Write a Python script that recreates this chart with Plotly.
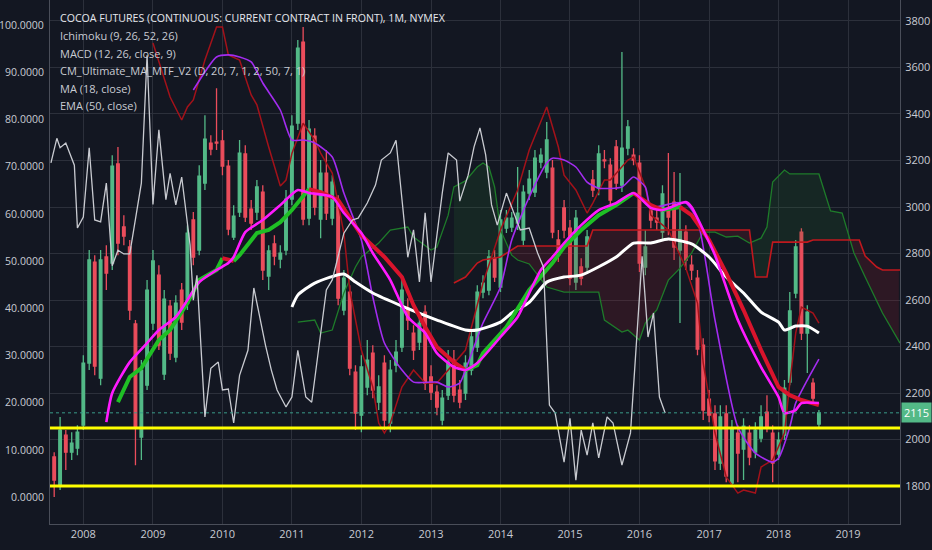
import numpy as np
import pandas as pd
import plotly.graph_objects as go


# monthly candles, Aug 2007 .. Aug 2018
months = pd.date_range('2007-08-01', periods=133, freq='MS')
open_ = [1925, 1804, 2019, 1946, 1963, 2062, 2329, 2763, 2264, 2785, 2759, 3185, 2914, 2828, 2497, 2011, 2234, 2501, 2707, 2282,
         2574, 2355, 2643, 2587, 2944, 2815, 3103, 3275, 3279, 3284, 3176, 2871, 2978, 3228, 2991, 2978, 3064, 2703, 2841, 2776,
         2815, 3034, 3361, 3709, 2952, 3305, 2948, 3146, 2952, 3021, 2557, 2634, 2290, 2105, 2226, 2372, 2161, 2329, 2071, 2320,
         2398, 2565, 2458, 2419, 2548, 2269, 2204, 2084, 2191, 2342, 2213, 2200, 2299, 2398, 2634, 2643, 2780, 2656, 2909, 2914,
         2931, 2858, 3060, 3064, 3193, 3150, 3167, 2858, 2996, 2909, 2677, 2742, 2742, 3116, 3081, 3202, 3180, 3258, 3094, 3253,
         3223, 3189, 2742, 2983, 2952, 2892, 2996, 3021, 2815, 2892, 2750, 2694, 2406, 2174, 2110, 1899, 2110, 1813, 2028, 1959,
         2028, 1946, 2006, 2118, 2028, 1938, 2019, 2247, 2630, 2892, 2458, 2243, 2067]
high = [1946, 2097, 2041, 2032, 2062, 2363, 2815, 2793, 2815, 2836, 3223, 3258, 2965, 2858, 2514, 2342, 2686, 2815, 2750, 2643,
        2600, 2621, 2673, 2922, 2978, 3180, 3395, 3309, 3511, 3331, 3202, 3008, 3288, 3266, 3030, 3116, 3094, 2836, 2879, 2836,
        3073, 3395, 3718, 3774, 3374, 3339, 3202, 3245, 3137, 3051, 2729, 2664, 2320, 2363, 2428, 2406, 2277, 2363, 2342, 2428,
        2686, 2608, 2492, 2535, 2578, 2320, 2234, 2213, 2385, 2385, 2256, 2363, 2471, 2664, 2707, 2815, 2815, 2987, 2987, 2978,
        3172, 3094, 3159, 3245, 3253, 3365, 3202, 2901, 3030, 2944, 2987, 2780, 2901, 3159, 3266, 3245, 3210, 3288, 3666, 3374,
        3253, 3223, 2901, 3008, 2987, 3094, 3232, 3150, 3146, 2922, 2793, 2729, 2436, 2213, 2148, 2148, 2148, 2084, 2062, 2092,
        2062, 2075, 2148, 2191, 2062, 2032, 2256, 2634, 2858, 2909, 2578, 2264, 2127]
low = [1753, 1783, 1869, 1912, 1933, 2041, 2299, 2277, 2234, 2643, 2729, 2793, 2836, 2514, 1890, 1912, 2213, 2471, 2385, 2256,
       2342, 2333, 2471, 2557, 2750, 2793, 3073, 3223, 3245, 3137, 2879, 2858, 2957, 2935, 2901, 2944, 2686, 2643, 2750, 2737,
       2793, 3008, 3331, 2922, 2922, 2965, 2866, 2944, 2922, 2578, 2535, 2277, 2041, 2032, 2191, 2178, 2127, 2041, 2032, 2290,
       2376, 2471, 2342, 2385, 2213, 2170, 2105, 2062, 2170, 2161, 2135, 2170, 2277, 2376, 2608, 2621, 2677, 2634, 2888, 2892,
       2901, 2836, 3030, 3043, 3167, 3124, 2866, 2763, 2866, 2664, 2643, 2664, 2720, 3043, 3051, 3167, 2987, 3073, 3064, 3223,
       3180, 2720, 2707, 2909, 2901, 2858, 2879, 2772, 2501, 2729, 2686, 2363, 2084, 2075, 1869, 1869, 1817, 1796, 1817, 1826,
       1890, 1920, 1989, 2032, 1817, 1912, 1998, 2234, 2608, 2428, 2286, 2157, 2049]
close = [1826, 2041, 1946, 1985, 2032, 2329, 2772, 2316, 2772, 2716, 3176, 2845, 2875, 2557, 2054, 2299, 2643, 2768, 2406, 2604,
         2372, 2587, 2505, 2888, 2785, 3133, 3292, 3249, 3275, 3176, 2905, 2961, 3232, 2957, 2931, 3086, 2729, 2811, 2789, 2802,
         3034, 3348, 3683, 2948, 3335, 3000, 3146, 2974, 3107, 2608, 2694, 2307, 2114, 2312, 2342, 2213, 2226, 2084, 2299, 2376,
         2643, 2514, 2385, 2501, 2243, 2204, 2140, 2178, 2333, 2191, 2161, 2329, 2441, 2634, 2673, 2785, 2699, 2944, 2952, 2952,
         2974, 3064, 3120, 3210, 3223, 3288, 2892, 2793, 2901, 2694, 2952, 2694, 2871, 3073, 3228, 3198, 3030, 3103, 3253, 3344,
         3202, 2759, 2828, 2944, 2935, 3056, 2957, 2828, 2901, 2772, 2729, 2389, 2127, 2105, 1908, 2097, 1843, 2049, 1942, 2058,
         1925, 2041, 2097, 2054, 1899, 1998, 2221, 2553, 2828, 2458, 2548, 2178, 2115]

# EMA (50, close)
ema_dates = ['2011-01', '2011-02', '2011-05', '2011-10', '2011-12', '2012-03', '2012-08', '2013-02', '2013-07', '2013-09',
             '2014-01', '2014-03', '2014-06', '2014-09', '2014-12', '2015-03', '2015-09', '2015-12', '2016-03', '2016-06',
             '2016-10', '2017-01', '2017-04', '2017-07', '2017-10', '2018-01', '2018-02', '2018-04', '2018-06', '2018-08']
ema_vals = [2570, 2621, 2673, 2712, 2677, 2630, 2574, 2514, 2471, 2471,
            2505, 2544, 2590, 2677, 2699, 2707, 2785, 2845, 2845, 2862,
            2841, 2785, 2699, 2630, 2548, 2505, 2471, 2488, 2488, 2458]

# MA (18, close)
ma_dates = ['2008-05', '2008-06', '2008-09', '2008-12', '2009-02', '2009-05', '2009-07', '2009-09', '2009-12', '2010-02',
            '2010-03', '2010-05', '2010-08', '2010-11', '2011-02', '2011-04', '2011-08', '2011-10', '2012-01', '2012-03',
            '2012-06', '2012-09', '2012-12', '2013-02', '2013-05', '2013-07', '2013-09', '2014-01', '2014-04', '2014-06',
            '2014-08', '2014-10', '2014-12', '2015-03', '2015-06', '2015-09', '2015-12', '2016-03', '2016-05', '2016-09',
            '2016-10', '2016-12', '2017-02', '2017-06', '2017-10', '2018-01', '2018-02', '2018-04', '2018-05', '2018-08']
ma_vals = [2075, 2200, 2333, 2415, 2471, 2527, 2600, 2677, 2729, 2759,
           2785, 2892, 2944, 3008, 3073, 3060, 3043, 2974, 2888, 2802,
           2686, 2527, 2458, 2372, 2312, 2299, 2329, 2441, 2527, 2630,
           2729, 2785, 2845, 2922, 2987, 3017, 3060, 2996, 2987, 3021,
           3000, 2901, 2793, 2514, 2312, 2183, 2114, 2127, 2157, 2157]

# CM_Ultimate_MA_MTF_V2
cm_dates = ['2008-07', '2008-08', '2008-09', '2008-11', '2009-01', '2009-02', '2009-04', '2009-07', '2009-09', '2009-12',
            '2010-01', '2010-03', '2010-04', '2010-07', '2010-09', '2010-11', '2011-01', '2011-04', '2011-06', '2011-09',
            '2012-01', '2012-05', '2012-08', '2012-10', '2012-12', '2013-02', '2013-05', '2013-07', '2013-09', '2013-10',
            '2014-02', '2014-06', '2014-10', '2014-12', '2015-03', '2015-06', '2015-09', '2015-12', '2016-03', '2016-05',
            '2016-08', '2016-10', '2017-01', '2017-04', '2017-07', '2017-10', '2018-01', '2018-03', '2018-05', '2018-08']
cm_vals = [2161, 2213, 2269, 2307, 2385, 2428, 2471, 2587, 2686, 2729,
           2780, 2768, 2793, 2888, 2901, 2935, 2987, 3077, 3064, 3030,
           2879, 2785, 2699, 2578, 2484, 2398, 2333, 2299, 2320, 2372,
           2484, 2643, 2759, 2828, 2901, 2965, 3008, 3060, 3008, 2987,
           3000, 2965, 2858, 2716, 2557, 2385, 2226, 2191, 2170, 2148]

# purple line
pur_dates = ['2009-08', '2009-12', '2010-02', '2010-04', '2010-06', '2010-08', '2010-11', '2011-01', '2011-03', '2011-05',
             '2011-08', '2011-10', '2012-01', '2012-03', '2012-05', '2012-08', '2012-10', '2013-02', '2013-04', '2013-06',
             '2013-07', '2013-10', '2014-01', '2014-03', '2014-06', '2014-09', '2014-10', '2014-12', '2015-02', '2015-04',
             '2015-06', '2015-10', '2015-12', '2016-02', '2016-03', '2016-07', '2016-09', '2016-11', '2017-02', '2017-06',
             '2017-09', '2017-12', '2018-01', '2018-03', '2018-04', '2018-06', '2018-08']
pur_vals = [3503, 3645, 3654, 3645, 3624, 3533, 3417, 3288, 3288, 3275,
            3215, 3060, 2858, 2613, 2415, 2299, 2247, 2247, 2226, 2243,
            2299, 2501, 2656, 2858, 3043, 3189, 3210, 3202, 3172, 3107,
            3081, 3086, 3129, 3086, 3000, 3017, 3017, 2944, 2514, 2054,
            1942, 1903, 1920, 2054, 2157, 2256, 2346]

# thin dark red line
dr_dates = ['2009-01', '2009-04', '2009-06', '2009-07', '2009-08', '2009-10', '2009-12', '2010-01', '2010-02', '2010-04',
            '2010-06', '2010-07', '2010-09', '2010-11', '2010-12', '2011-01', '2011-03', '2011-05', '2011-06', '2011-08',
            '2011-10', '2011-11', '2012-01', '2012-03', '2012-04', '2012-05', '2012-06', '2012-08', '2012-10', '2012-12',
            '2013-02', '2013-04', '2013-07', '2013-10', '2014-01', '2014-04', '2014-06', '2014-09', '2014-11', '2014-12',
            '2015-02', '2015-04', '2015-05', '2015-07', '2015-08', '2015-11', '2015-12', '2016-02', '2016-03', '2016-06',
            '2016-09', '2016-11', '2016-12', '2017-02', '2017-04', '2017-06', '2017-07', '2017-09', '2017-10', '2017-12',
            '2018-02', '2018-03', '2018-04', '2018-05', '2018-07', '2018-08']
dr_vals = [3705, 3473, 3374, 3430, 3460, 3632, 3774, 3774, 3654, 3632,
           3482, 3439, 3258, 3090, 3116, 3230, 3360, 3288, 3232, 3146,
           2888, 2643, 2385, 2226, 2071, 2028, 2071, 2226, 2299, 2243,
           2243, 2300, 2385, 2673, 2901, 3073, 3245, 3430, 3258, 3137,
           3073, 2974, 3017, 3116, 3116, 3202, 3215, 3086, 2965, 2901,
           2737, 2587, 2330, 2028, 1839, 1770, 1783, 1770, 1882, 1912,
           2028, 2243, 2458, 2570, 2544, 2501]

# Ichimoku cloud: leading span A / B
sa_dates = ['2011-02', '2011-05', '2011-06', '2011-08', '2011-10', '2011-12', '2012-01', '2012-04', '2012-06', '2012-09',
            '2012-10', '2013-01', '2013-02', '2013-04', '2013-05', '2013-07', '2013-09', '2013-10', '2013-11', '2013-12',
            '2014-01', '2014-03', '2014-04', '2014-06', '2014-09', '2014-12', '2015-06', '2015-07', '2015-10', '2015-11',
            '2016-01', '2016-02', '2016-04', '2016-06', '2016-08', '2016-10', '2016-12', '2017-02', '2017-04', '2017-06',
            '2017-08', '2017-10', '2017-11', '2017-12', '2018-02', '2018-03', '2018-08', '2018-10', '2018-12', '2019-02',
            '2019-04', '2019-07', '2019-10']
sa_vals = [2505, 2514, 2458, 2471, 2630, 2742, 2785, 2845, 2901, 2914,
           2871, 2815, 2828, 2965, 3086, 3112, 3172, 3189, 3172, 3086,
           2901, 2793, 2772, 2755, 2656, 2634, 2634, 2514, 2462, 2471,
           2428, 2501, 2557, 2686, 2737, 2802, 2892, 2892, 2871, 2875,
           2845, 2866, 2914, 3107, 3159, 3142, 3142, 2983, 2974, 2802,
           2699, 2544, 2415]
sb_dates = ['2013-05', '2013-07', '2013-09', '2013-10', '2014-01', '2014-03', '2014-04', '2015-04', '2015-05', '2017-08',
            '2017-09', '2017-11', '2017-12', '2018-06', '2018-07', '2019-03', '2019-04', '2019-06', '2019-07', '2019-10']
sb_vals = [2673, 2699, 2759, 2772, 2785, 2815, 2832, 2832, 2901, 2901,
           2699, 2699, 2849, 2849, 2858, 2858, 2789, 2742, 2729, 2729]

# oscillator on the left scale
osc_dates = ['2007-07-15', '2007-08-15', '2007-09-01', '2007-10-01', '2007-11-15', '2007-12-01', '2008-01-01', '2008-02-01',
             '2008-03-01', '2008-04-01', '2008-05-01', '2008-06-01', '2008-07-01', '2008-08-01', '2008-09-01', '2008-11-01',
             '2008-12-01', '2009-01-01', '2009-02-01', '2009-03-10', '2009-04-01', '2009-05-01', '2009-06-01', '2009-07-15',
             '2009-08-01', '2009-08-20', '2009-10-01', '2009-11-01', '2009-12-10', '2010-01-01', '2010-02-01', '2010-03-01',
             '2010-04-01', '2010-05-15', '2010-06-15', '2010-07-15', '2010-08-15', '2010-09-15', '2010-10-15', '2010-12-01',
             '2011-01-01', '2011-02-01', '2011-03-15', '2011-04-15', '2011-05-15', '2011-07-01', '2011-08-01', '2011-10-01',
             '2011-11-15', '2011-12-15', '2012-02-01', '2012-03-15', '2012-04-15', '2012-06-01', '2012-07-01', '2012-08-01',
             '2012-09-01', '2012-10-01', '2012-11-01', '2012-12-01', '2013-01-01', '2013-03-01', '2013-04-01', '2013-05-15',
             '2013-06-01', '2013-07-15', '2013-08-15', '2013-09-15', '2013-10-15', '2013-11-15', '2013-12-15', '2014-02-01',
             '2014-04-15', '2014-06-01', '2014-07-15', '2014-08-15', '2014-09-15', '2014-10-15', '2014-12-01', '2015-01-01',
             '2015-02-01', '2015-03-01', '2015-04-01', '2015-05-01', '2015-06-01', '2015-07-15', '2015-08-15', '2015-10-01',
             '2015-11-15', '2016-01-15', '2016-02-15', '2016-03-15', '2016-04-15', '2016-05-15']
osc_vals = [70.8, 76, 74, 75, 70.3, 57, 59.3, 74,
            58.7, 58.3, 66.5, 49, 52.3, 51.5, 51.5, 66.5,
            93.6, 62, 77.8, 63, 68.6, 61.9, 67.8, 53.4,
            41.7, 47, 17, 27.3, 28.6, 22.7, 22.9, 15.7,
            25.8, 31.1, 44.3, 38, 32.2, 26.9, 22.7, 19.1,
            21.2, 31.1, 21.2, 20.1, 29.4, 43.9, 46, 55.9,
            58.7, 59.1, 62.3, 66.1, 71.4, 72.9, 75.6, 63.3,
            50.8, 56.6, 45.6, 60.2, 45.6, 64.4, 72.9, 71.4,
            62.7, 68.2, 74.2, 78.2, 72.5, 61.9, 57.6, 64.4,
            56.6, 57, 51.7, 48.7, 19.5, 17.8, 7.4, 16.7,
            3.6, 14.2, 8.9, 15.7, 8.3, 17, 15.7, 6.8,
            13.6, 51, 33.9, 39, 21.2, 17.8]

support_levels = [2050, 1800]
last_price = 2115

legend_lines = ['COCOA FUTURES (CONTINUOUS: CURRENT CONTRACT IN FRONT), 1M, NYMEX',
                'Ichimoku (9, 26, 52, 26)',
                'MACD (12, 26, close, 9)',
                'CM_Ultimate_MA_MTF_V2 (D, 20, 7, 1, 2, 50, 7, 1)',
                'MA (18, close)',
                'EMA (50, close)']

bg = '#131722'
grid = '#2c303b'
up_col = '#53b987'
dn_col = '#eb4d5c'

fig = go.Figure()

# cloud shading, on a weekly grid between the two spans
wk = pd.date_range('2013-05-01', '2019-10-01', freq='7D')
t = wk.astype('int64')
a = np.interp(t, pd.to_datetime(sa_dates).astype('int64'), sa_vals)
b = np.interp(t, pd.to_datetime(sb_dates).astype('int64'), sb_vals)
fig.add_trace(go.Scatter(x=wk, y=b, mode='lines', line=dict(width=0), hoverinfo='skip'))
fig.add_trace(go.Scatter(x=wk, y=np.maximum(a, b), mode='lines', line=dict(width=0), fill='tonexty',
                         fillcolor='rgba(46,125,50,0.16)', hoverinfo='skip'))
fig.add_trace(go.Scatter(x=wk, y=b, mode='lines', line=dict(width=0), hoverinfo='skip'))
fig.add_trace(go.Scatter(x=wk, y=np.minimum(a, b), mode='lines', line=dict(width=0), fill='tonexty',
                         fillcolor='rgba(150,30,45,0.20)', hoverinfo='skip'))
fig.add_trace(go.Scatter(x=sa_dates, y=sa_vals, mode='lines', line=dict(color='#1e7b2a', width=1.3)))
fig.add_trace(go.Scatter(x=sb_dates, y=sb_vals, mode='lines', line=dict(color='#c0181e', width=1.6)))

fig.add_trace(go.Candlestick(x=months, open=open_, high=high, low=low, close=close,
                             increasing=dict(line=dict(color=up_col, width=1.3), fillcolor=up_col),
                             decreasing=dict(line=dict(color=dn_col, width=1.3), fillcolor=dn_col),
                             whiskerwidth=0))

fig.add_trace(go.Scatter(x=dr_dates, y=dr_vals, mode='lines', line=dict(color='#a3121a', width=1.5)))
fig.add_trace(go.Scatter(x=pur_dates, y=pur_vals, mode='lines', line=dict(color='#a32cf0', width=1.6, shape='spline', smoothing=0.6)))
fig.add_trace(go.Scatter(x=ema_dates, y=ema_vals, mode='lines', line=dict(color='#ffffff', width=3, shape='spline', smoothing=0.6)))

# CM MA coloured by direction
k0 = 0
for k in range(1, len(cm_vals) + 1):
    if k == len(cm_vals) or (k > k0 + 1 and (cm_vals[k] >= cm_vals[k - 1]) != (cm_vals[k0 + 1] >= cm_vals[k0])):
        rising = cm_vals[k0 + 1] >= cm_vals[k0]
        fig.add_trace(go.Scatter(x=cm_dates[k0:k], y=cm_vals[k0:k], mode='lines',
                                 line=dict(color='#1fbf25' if rising else '#d9142c', width=4)))
        k0 = k - 1

fig.add_trace(go.Scatter(x=ma_dates, y=ma_vals, mode='lines', line=dict(color='#ff1aff', width=2.6, shape='spline', smoothing=0.6)))

fig.add_trace(go.Scatter(x=osc_dates, y=osc_vals, mode='lines', yaxis='y2', line=dict(color='#c9cbd1', width=1.3)))

for lvl in support_levels:
    fig.add_shape(type='line', xref='paper', x0=0, x1=1, yref='y', y0=lvl, y1=lvl,
                  line=dict(color='#ffff00', width=3))
fig.add_shape(type='line', xref='paper', x0=0, x1=1, yref='y', y0=last_price, y1=last_price,
              line=dict(color='#3a9c8a', width=1, dash='dot'))

fig.add_annotation(x=1, xref='paper', y=last_price, yref='y', text=str(last_price), showarrow=False,
                   xanchor='left', xshift=1, bgcolor=up_col, borderpad=2,
                   font=dict(color='#ffffff', size=11, family='Open Sans'))

for n, txt in enumerate(legend_lines):
    fig.add_annotation(x=0.009, xref='paper', y=1 - (18 + 17.5 * n) / 524, yref='paper', text=txt,
                       showarrow=False, xanchor='left', yanchor='middle',
                       font=dict(color='#e6e8ee' if n == 0 else '#c8cbd3', size=11 if n else 10.6, family='Open Sans'))

fig.update_layout(
    width=932, height=550,
    margin=dict(l=50, r=32, t=0, b=26, autoexpand=False),
    paper_bgcolor=bg, plot_bgcolor=bg,
    showlegend=False,
    font=dict(family='Open Sans', color='#c8cbd3', size=11),
    xaxis=dict(type='date', range=['2007-07-10', '2019-10-01'], rangeslider=dict(visible=False),
               tick0='2008-01-01', dtick='M12', tickformat='%Y', showgrid=True, gridcolor=grid,
               showline=True, linecolor='#4a4e59', zeroline=False, ticks='', automargin=False),
    yaxis=dict(side='right', range=[1637, 3890], tick0=1800, dtick=200, showgrid=True, gridcolor=grid,
               showline=True, linecolor='#4a4e59', zeroline=False, ticks='', automargin=False,
               ticklabelstandoff=2),
    yaxis2=dict(side='left', overlaying='y', range=[-5.7, 105.3], tickvals=list(range(0, 101, 10)),
                tickformat='.4f', showgrid=False, showline=True, linecolor='#4a4e59', zeroline=False, ticks='',
                automargin=False, ticklabelstandoff=3, tickfont=dict(size=10.5)),
)

# the page has a default 8px body margin; drop it so the figure sits at the window corner
fig.write_html('out.html', config={'displayModeBar': False},
               post_script="document.body.style.margin='0';document.body.style.background='#131722';")
